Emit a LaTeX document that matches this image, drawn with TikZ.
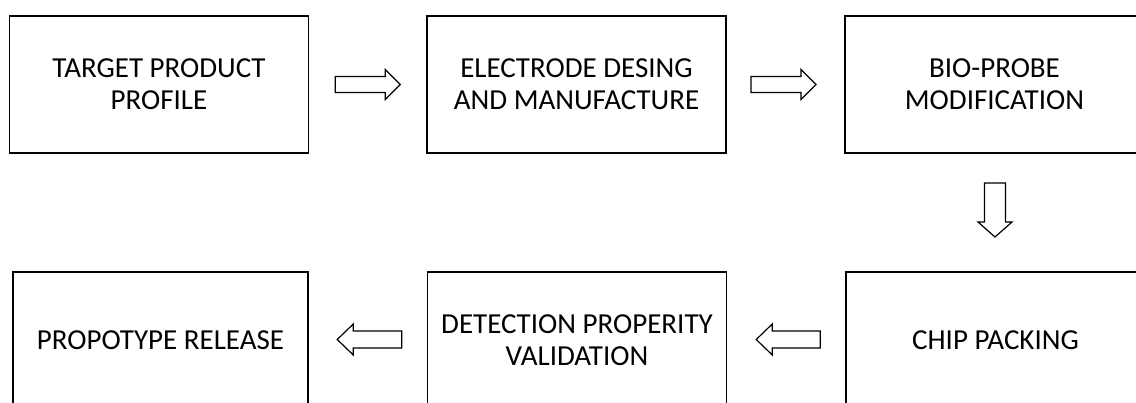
\documentclass[tikz,border=0pt]{standalone}
\usepackage{fontspec}
\setmainfont{Carlito}
\usetikzlibrary{calc}
\begin{document}
\begin{tikzpicture}[x=1pt,y=1pt,
  stagebox/.style={draw=black,line width=1.5pt,minimum width=299pt,minimum height=137pt,
    inner sep=0pt,align=center,font=\fontsize{29}{32}\selectfont},
  blockarrow/.style={draw=black,line width=1.2pt,fill=white,line join=miter}]
\useasboundingbox (0,0) rectangle (1136,-403);

% process stages, top row left to right, bottom row right to left
\node[stagebox] (b1) at (159,-84.5) {TARGET PRODUCT\\PROFILE};
\node[stagebox] (b2) at (576.5,-84.5) {ELECTRODE DESING\\AND MANUFACTURE};
\node[stagebox] (b3) at (994.5,-84.5) {BIO-PROBE\\MODIFICATION};
\node[stagebox] (b6) at (995.5,-340.5) {CHIP PACKING};
\node[stagebox] (b5) at (577,-340.5) {DETECTION PROPERITY\\VALIDATION};
\node[stagebox,minimum width=295pt] (b4) at (160.5,-340.5) {PROPOTYPE RELEASE};

% hollow block arrows between the stages
\coordinate (a12) at ($(b1.east)!0.5!(b2.west)$);
\coordinate (a23) at ($(b2.east)!0.5!(b3.west)+(-2,0)$);
\coordinate (a36) at ($(b3.south)!0.5!(b6.north)+(0,2.5)$);
\coordinate (a65) at ($(b6.west)!0.5!(b5.east)+(2,1)$);
\coordinate (a54) at ($(b5.west)!0.5!(b4.east)+(1.5,1)$);

\draw[blockarrow] (a12) ++(-32.5,8) -- ++(50,0) -- ++(0,7) -- ++(15,-15)
  -- ++(-15,-15) -- ++(0,7) -- ++(-50,0) -- cycle;
\draw[blockarrow] (a23) ++(-32.5,8) -- ++(50,0) -- ++(0,7) -- ++(15,-15)
  -- ++(-15,-15) -- ++(0,7) -- ++(-50,0) -- cycle;
\draw[blockarrow] (a36) ++(-10.5,27) -- ++(0,-39) -- ++(-6.5,0) -- ++(17,-15)
  -- ++(17,15) -- ++(-6.5,0) -- ++(0,39) -- cycle;
\draw[blockarrow] (a65) ++(32,8.5) -- ++(-48,0) -- ++(0,7) -- ++(-16,-15.5)
  -- ++(16,-15.5) -- ++(0,7) -- ++(48,0) -- cycle;
\draw[blockarrow] (a54) ++(32.5,8.5) -- ++(-48.5,0) -- ++(0,7) -- ++(-16,-15.5)
  -- ++(16,-15.5) -- ++(0,7) -- ++(48.5,0) -- cycle;
\end{tikzpicture}
\end{document}
